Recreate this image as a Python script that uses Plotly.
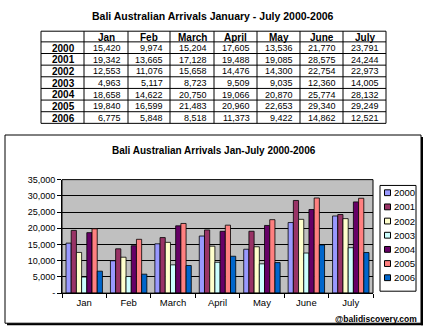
import plotly.graph_objects as go

months = ["Jan", "Feb", "March", "April", "May", "June", "July"]
years = ["2000", "2001", "2002", "2003", "2004", "2005", "2006"]
v2000 = [15420, 9974, 15204, 17605, 13536, 21770, 23791]
v2001 = [19342, 13665, 17128, 19488, 19085, 28575, 24244]
v2002 = [12553, 11076, 15658, 14476, 14300, 22754, 22973]
v2003 = [4963, 5117, 8723, 9509, 9035, 12360, 14005]
v2004 = [18658, 14622, 20750, 19066, 20870, 25774, 28132]
v2005 = [19840, 16599, 21483, 20960, 22653, 29340, 29249]
v2006 = [6775, 5848, 8518, 11373, 9422, 14862, 12521]
series = [v2000, v2001, v2002, v2003, v2004, v2005, v2006]
colors = ["#9999FF", "#993366", "#FFFFCC", "#CCFFFF", "#660066", "#FF8080", "#0066CC"]
ytick_vals = [0, 5000, 10000, 15000, 20000, 25000, 30000, 35000]
ytick_text = ["-", "5,000", "10,000", "15,000", "20,000", "25,000", "30,000", "35,000"]

W, H = 429, 335
def px(x): return x / W
def py(y): return 1 - y / H

FONT = "Arial, Liberation Sans, sans-serif"
fig = go.Figure()

for y, s, c in zip(years, series, colors):
    fig.add_trace(go.Bar(x=months, y=s, name=y, marker=dict(color=c, line=dict(color="black", width=0.8)),
                         showlegend=False))

shapes = []
annotations = []

# table drawn from the data arrays
col_x = [41, 84, 128, 170, 214, 257, 300, 343, 386]
row_y = [27, 38, 50, 62, 74, 86, 98, 110, 122]
def line(x0, y0, x1, y1):
    shapes.append(dict(type="line", xref="paper", yref="paper", x0=px(x0), y0=py(y0), x1=px(x1), y1=py(y1),
                       line=dict(color="black", width=1)))
for xx in col_x:
    line(xx, row_y[0], xx, row_y[-1])
for yy in row_y:
    line(col_x[0], yy, col_x[-1], yy)
def txt(s, x, y, anchor, size, bold=False):
    annotations.append(dict(text=("<b>%s</b>" % s) if bold else s, xref="paper", yref="paper",
                            x=px(x), y=py(y), xanchor=anchor, yanchor="middle", showarrow=False,
                            font=dict(family=FONT, size=size, color="black")))
for j, m in enumerate(months):
    txt(m, (col_x[j + 1] + col_x[j + 2]) / 2, (row_y[0] + row_y[1]) / 2 + 0.5, "center", 10, True)
for i, (yr, s) in enumerate(zip(years, series)):
    cy = (row_y[i + 1] + row_y[i + 2]) / 2 + 0.5
    txt(yr, (col_x[0] + col_x[1]) / 2 + 1, cy, "center", 10, True)
    for j in range(len(months)):
        txt("{:,}".format(s[j]), col_x[j + 2] - 5, cy, "right", 9)

# chart box with shadow
shapes.append(dict(type="rect", xref="paper", yref="paper", x0=px(5), x1=px(421), y0=py(328), y1=py(134),
                   line=dict(color="black", width=1)))
shapes.append(dict(type="rect", xref="paper", yref="paper", x0=px(421), x1=px(423), y0=py(330), y1=py(136),
                   fillcolor="black", line=dict(width=0)))
shapes.append(dict(type="rect", xref="paper", yref="paper", x0=px(7), x1=px(423), y0=py(330), y1=py(328),
                   fillcolor="black", line=dict(width=0)))
# plot area border
shapes.append(dict(type="rect", xref="x domain", yref="y domain", x0=0, x1=1, y0=0, y1=1,
                   line=dict(color="black", width=1)))
# legend
lx0, lx1, ly0, ly1 = 380, 416, 186, 295
shapes.append(dict(type="rect", xref="paper", yref="paper", x0=px(lx0), x1=px(lx1), y0=py(ly1), y1=py(ly0),
                   line=dict(color="black", width=1), fillcolor="white"))
for i, (y, c) in enumerate(zip(years, colors)):
    cy = 193.5 + i * 14.6
    shapes.append(dict(type="rect", xref="paper", yref="paper", x0=px(384.5), x1=px(390.5),
                       y0=py(cy + 3), y1=py(cy - 3), fillcolor=c, line=dict(color="black", width=1)))
    txt(y, 391.5, cy, "left", 9.5)

txt("Bali Australian Arrivals January - July 2000-2006", 213, 11, "center", 10.5, True)
txt("Bali Australian Arrivals Jan-July 2000-2006", 214, 150, "center", 10, True)
txt("@balidiscovery.com", 419, 324, "right", 8.5, True)

fig.update_layout(
    width=W, height=H, margin=dict(l=0, r=0, t=0, b=0),
    paper_bgcolor="white", plot_bgcolor="#C0C0C0",
    barmode="group", bargap=0.18, bargroupgap=0,
    font=dict(family=FONT, size=9, color="black"),
    shapes=shapes, annotations=annotations,
    xaxis=dict(domain=[px(62), px(373)], showline=True, linecolor="black", linewidth=1,
               ticks="outside", ticklen=4, tickcolor="black", tickson="boundaries",
               tickfont=dict(size=9.5), showgrid=False, fixedrange=True),
    yaxis=dict(domain=[py(297), py(180)], range=[0, 35000], tickvals=ytick_vals, ticktext=ytick_text,
               showline=True, linecolor="black", linewidth=1, ticks="outside", ticklen=4, tickcolor="black",
               showgrid=True, gridcolor="black", gridwidth=1, zeroline=False, tickfont=dict(size=9),
               fixedrange=True),
)

fig.write_html("out.html")
